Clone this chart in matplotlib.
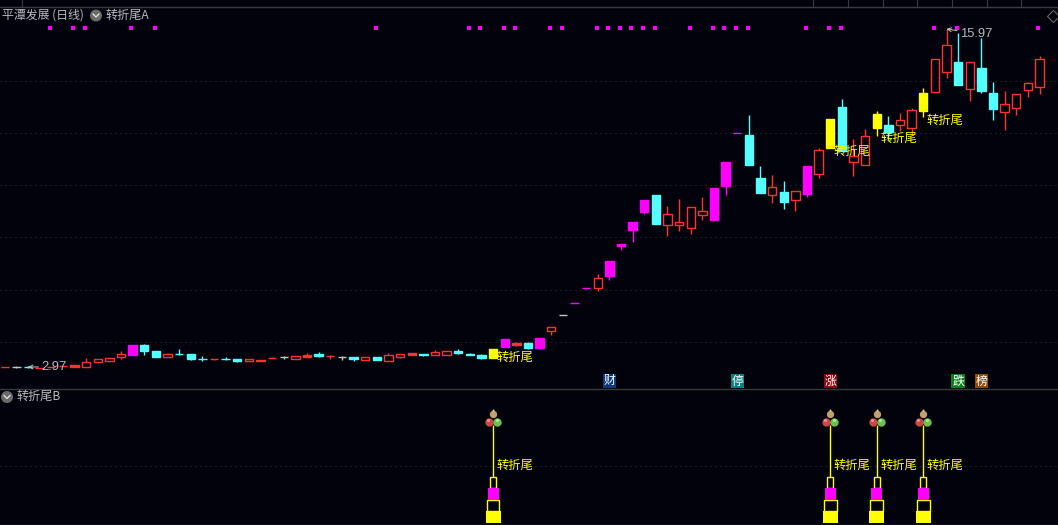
import matplotlib
matplotlib.use("Agg")
import matplotlib.pyplot as plt
from matplotlib.patches import Circle

plt.rcParams['font.family'] = ['Noto Sans CJK SC', 'DejaVu Sans']

# ---- daily candles (top / bottom of body, high, low) ----
body_top = [2.966,2.966,2.975,2.955,2.975,2.980,3.000,3.040,3.086,3.100,3.164,3.314,3.314,3.216,3.164,
            3.168,3.168,3.090,3.086,3.090,3.090,3.086,3.082,3.100,3.117,3.132,3.153,3.168,3.137,3.117,
            3.122,3.117,3.117,3.148,3.164,3.184,3.164,3.195,3.210,3.210,3.164,3.153,3.248,3.414,3.347,
            3.347,3.431,3.619,3.840,4.090,4.390,4.620,5.040,5.490,6.110,6.820,6.990,6.350,6.100,6.570,
            6.440,7.240,8.240,9.500,9.420,7.600,7.260,7.090,7.120,8.080,8.760,10.20,10.83,8.470,9.360,
            10.46,9.900,10.13,10.65,11.61,13.73,14.72,13.55,13.53,13.15,11.61,10.98,11.54,12.19,13.73]
body_bot = [2.966,2.966,2.966,2.955,2.975,2.980,2.975,2.975,3.050,3.065,3.127,3.153,3.216,3.122,3.127,
            3.165,3.090,3.090,3.086,3.090,3.065,3.055,3.060,3.100,3.117,3.095,3.127,3.142,3.137,3.117,
            3.095,3.080,3.080,3.065,3.127,3.157,3.160,3.157,3.157,3.184,3.160,3.110,3.106,3.281,3.314,
            3.265,3.265,3.557,3.840,4.090,4.390,4.390,4.670,5.410,5.870,6.430,6.050,6.030,6.030,5.940,
            6.340,6.170,7.310,9.500,8.120,7.060,7.000,6.750,6.800,7.030,7.770,8.830,8.700,8.250,8.130,
            9.760,9.560,9.890,9.760,10.62,11.69,12.91,12.08,11.87,11.73,10.72,10.58,10.76,11.76,11.98]
high = [2.966,2.985,2.985,2.955,2.975,2.980,3.000,3.106,3.086,3.100,3.210,3.314,3.330,3.216,3.176,
        3.248,3.168,3.137,3.086,3.117,3.090,3.086,3.082,3.122,3.137,3.132,3.180,3.200,3.153,3.137,
        3.122,3.117,3.117,3.184,3.164,3.184,3.164,3.232,3.210,3.243,3.189,3.173,3.248,3.414,3.368,
        3.364,3.431,3.619,3.840,4.090,4.390,4.720,5.040,5.490,6.110,6.820,6.990,6.620,6.850,6.570,
        6.920,7.240,8.240,9.500,10.41,8.080,7.720,7.490,7.120,8.080,8.830,10.20,11.27,9.240,9.710,
        10.62,10.36,10.52,10.78,11.90,13.73,15.97,15.66,13.53,15.27,12.27,11.74,11.54,12.27,13.96]
low = [2.966,2.948,2.955,2.955,2.975,2.980,2.975,2.975,3.050,3.065,3.095,3.153,3.153,3.122,3.127,
       3.153,3.075,3.060,3.068,3.078,3.050,3.055,3.060,3.100,3.090,3.095,3.127,3.127,3.090,3.075,
       3.065,3.080,3.080,3.065,3.110,3.157,3.140,3.157,3.157,3.168,3.160,3.095,3.106,3.281,3.297,
       3.248,3.248,3.483,3.840,4.090,4.390,4.330,4.580,5.320,5.530,6.360,6.050,5.700,5.840,5.760,
       6.170,6.170,6.990,9.500,8.120,7.060,6.720,6.520,6.460,6.920,7.620,8.830,8.700,7.700,8.130,
       9.380,9.190,9.610,9.420,10.31,11.69,12.50,12.08,11.16,11.61,10.15,9.670,10.41,11.38,11.57]

# ---- candle classes ----
falling = [2,12,13,15,16,17,19,20,27,30,32,36,39,40,41,45,56,64,65,67,72,76,82,84,85]
flat_gray = [1,24,29,48]
solid_red = [0,3,4,5,6,18,22,23,26,28,35,44]
magenta_days = [11,43,46,49,50,52,53,54,55,61,62,63,69]
yellow_days = [42,71,75,79]

# ---- signals ----
top_dot_days = [4,6,7,11,13,32,40,41,43,44,47,48,51,52,53,54,55,56,59,61,62,63,64,69,71,72,80,82,89]
top_dot_price = 16.05
signal_label = "转折尾"
signal_label_prices = [3.122, 8.70, 9.25, 10.15]
grid_prices = [3.364, 4.36, 5.67, 7.35, 9.52, 12.33]

# tower in the lower pane
tower_bottoms = [0, 12, 23.5, 35]
tower_heights = [12, 11.5, 11.5, 11]
tower_stem_top = 98
tower_label_level = 57
sub_grid_level = 57

tags = [(52, "财", "#0a3a78"), (63, "停", "#0b8080"), (71, "涨", "#8a0a10"),
        (82, "跌", "#0a8020"), (84, "榜", "#8a4a10")]

BG = "#02020c"
RED = "#ff3232"
CYAN = "#54ffff"
MAG = "#ff00ff"
YEL = "#ffff00"
GRAY = "#c4c4c4"
GRID = "#363636"
LW = 0.72

W, H = 1058, 525
fig = plt.figure(figsize=(W / 100, H / 100), dpi=100, facecolor=BG)

def pane(top, bottom):
    a = fig.add_axes([0, 1 - bottom / H, 1, (bottom - top) / H], facecolor=BG)
    a.set_xticks([]); a.set_yticks([])
    for s in a.spines.values():
        s.set_visible(False)
    a.set_xlim(-0.41, 90.59)
    return a

ax = pane(8, 388)
ax.set_yscale('log')
ax.set_ylim(2.675, 17.72)
ax.minorticks_off()
ax.set_yticks([])

for p in grid_prices:
    ax.axhline(p, color=GRID, lw=0.72, ls=(0, (1, 4)), zorder=1)

for i in range(len(body_top)):
    t, b, h, l = body_top[i], body_bot[i], high[i], low[i]
    if i in magenta_days:
        c, f = MAG, MAG
    elif i in yellow_days:
        c, f = YEL, YEL
    elif i in falling:
        c, f = CYAN, CYAN
    elif i in flat_gray:
        c, f = GRAY, GRAY
    elif i in solid_red:
        c, f = RED, RED
    else:
        c, f = RED, BG
    ax.vlines(i, l, h, color=c, lw=1.0, zorder=2)
    ax.bar(i, t - b, bottom=b, width=0.72, facecolor=f, edgecolor=c, lw=1.0, zorder=3)

ax.scatter([d - 0.1 for d in top_dot_days], [top_dot_price] * len(top_dot_days),
           marker='s', s=7, color=MAG, lw=0, zorder=3)

for d, p in zip(yellow_days, signal_label_prices):
    ax.text(d + 0.32, p, signal_label, color=YEL, fontsize=8.8, va='center', ha='left', zorder=5)

ax.annotate("2.97", xy=(2, 2.97), xytext=(9.5, 0), textcoords='offset points',
            color="#b4bac0", fontsize=9.4, va='center', ha='left', family='Liberation Sans',
            arrowprops=dict(arrowstyle='->', color=GRAY, lw=0.7, shrinkA=0, shrinkB=0, mutation_scale=7))
ax.annotate("15.97", xy=(81, 15.97), xytext=(9.5, -3.5), textcoords='offset points',
            color="#b4bac0", fontsize=9.4, va='center', ha='left', family='Liberation Sans',
            arrowprops=dict(arrowstyle='->', color=GRAY, lw=0.7, shrinkA=0, shrinkB=0, mutation_scale=7))

for d, ch, col in tags:
    ax.text(d, 0.0185, ch, transform=ax.get_xaxis_transform(), color="white", fontsize=8.6,
            ha='center', va='center', zorder=5,
            bbox=dict(boxstyle='square,pad=0.06', fc=col, ec='none'))

sub = pane(388, 524)
sub.set_ylim(-1, 135)
sub.axhline(sub_grid_level, color=GRID, lw=0.72, ls=(0, (1, 4)), zorder=1)
for d in yellow_days:
    sub.vlines(d, tower_bottoms[3] + tower_heights[3], tower_stem_top, color=YEL, lw=1.0, zorder=2)
    sub.bar(d, tower_heights[0], bottom=tower_bottoms[0], width=1.28, color=YEL, lw=0, zorder=3)
    sub.bar(d, tower_heights[1], bottom=tower_bottoms[1], width=1.08, facecolor='none', edgecolor=YEL, lw=1.0, zorder=3)
    sub.bar(d, tower_heights[2], bottom=tower_bottoms[2], width=0.95, color=MAG, lw=0, zorder=4)
    sub.bar(d, tower_heights[3], bottom=tower_bottoms[3], width=0.55, facecolor='none', edgecolor=YEL, lw=1.0, zorder=3)
    sub.scatter([d], [tower_stem_top + 11], s=28, color="#bfa36a", lw=0, zorder=4)
    sub.scatter([d], [tower_stem_top + 15], s=2, color="#e8d8a0", lw=0, zorder=5)
    sub.scatter([d - 0.36], [tower_stem_top + 3.5], s=36, color="#c84848", lw=0, zorder=5)
    sub.scatter([d + 0.36], [tower_stem_top + 3.5], s=36, color="#6cc050", lw=0, zorder=5)
    sub.scatter([d - 0.42], [tower_stem_top + 5], s=5, color="#e89090", lw=0, zorder=6)
    sub.scatter([d + 0.30], [tower_stem_top + 5], s=5, color="#b0e890", lw=0, zorder=6)
    sub.text(d + 0.32, tower_label_level + 0.5, signal_label, color=YEL, fontsize=8.8,
             va='center', ha='left', zorder=5)

# ---- window chrome ----
ov = fig.add_axes([0, 0, 1, 1], facecolor='none')
ov.set_xlim(0, W); ov.set_ylim(H, 0); ov.axis('off')
SEP = "#3a3a3a"
ov.plot([0, W], [6.5, 6.5], color=SEP, lw=1)
ov.plot([0, W], [388.5, 388.5], color=SEP, lw=1)
ov.plot([0, W], [524.5, 524.5], color=SEP, lw=1)
for x in [22, 813, 848, 883, 917, 952, 987, 1021]:
    ov.plot([x, x], [0, 6], color=SEP, lw=0.8)
TXT = "#b8bcc0"
ov.text(2, 15, "平潭发展 (日线)", color=TXT, fontsize=8.6, va='center', ha='left')
ov.text(106, 15, "转折尾A", color=TXT, fontsize=8.7, va='center', ha='left')
ov.text(17, 396.5, "转折尾B", color=TXT, fontsize=8.7, va='center', ha='left')
for cx, cy in [(96, 15.5), (7, 397)]:
    ov.add_patch(Circle((cx, cy), 6, fc="#6a6a6a", ec='none'))
    ov.plot([cx - 3, cx, cx + 3], [cy - 1.5, cy + 1.5, cy - 1.5], color="#e8e8e8", lw=0.9)
ov.plot([1052.5], [16], marker='D', ms=6, mfc='none', mec="#707070", mew=0.7)

fig.savefig("out.png", dpi=100, facecolor=BG)
